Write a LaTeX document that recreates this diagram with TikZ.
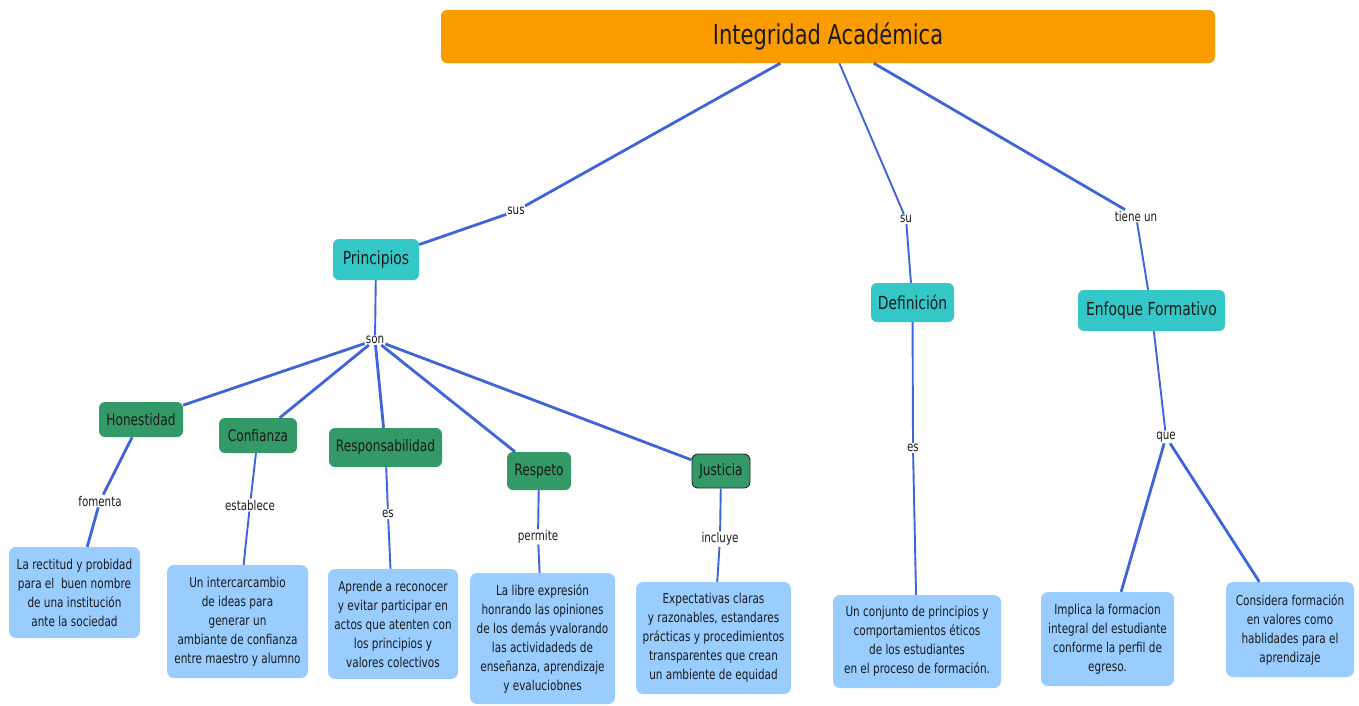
\documentclass[tikz,border=0pt]{standalone}
\usepackage{fontspec}
\setmainfont{DejaVu Sans}[FakeStretch=0.77]
\definecolor{orangeT}{HTML}{FA9B00}
\definecolor{tealB}{HTML}{33C7C7}
\definecolor{greenB}{HTML}{339966}
\definecolor{blueL}{HTML}{99CCFF}
\definecolor{lineB}{HTML}{3E64DC}
\definecolor{txt}{HTML}{1A1A1A}
\tikzset{
  titlebox/.style={fill=orangeT, rounded corners=6pt, inner sep=0pt, text=txt, font=\fontsize{27.3}{31}\selectfont},
  topicbox/.style={fill=tealB, rounded corners=6pt, inner sep=0pt, text=txt, font=\fontsize{18}{21}\selectfont},
  valuebox/.style={fill=greenB, rounded corners=6pt, inner sep=0pt, text=txt, font=\fontsize{15.8}{19}\selectfont},
  infobox/.style={fill=blueL, rounded corners=7pt, inner sep=0pt, align=center, text=txt, font=\fontsize{13.6}{19}\selectfont},
  linklabel/.style={fill=white, inner sep=1pt, text=txt, font=\fontsize{13.4}{15}\selectfont},
  conn/.style={draw=lineB, line width=2.8pt},
  connthin/.style={draw=lineB, line width=1.9pt},
}
\begin{document}
\begin{tikzpicture}[x=1pt,y=-1pt]
\useasboundingbox (0,0) rectangle (1359,705);
% main nodes
\node[titlebox, minimum width=774pt, minimum height=53pt] (title) at (828,36.5) {Integridad Académica};
\node[topicbox, minimum width=86pt, minimum height=41pt] (prin) at (376,259.5) {Principios};
\node[topicbox, minimum width=83pt, minimum height=39pt] (defi) at (912.5,302.5) {Definición};
\node[topicbox, minimum width=147pt, minimum height=41pt] (enfo) at (1151.5,310.5) {Enfoque Formativo};
\node[valuebox, minimum width=84pt, minimum height=35pt] (hone) at (141,419.5) {Honestidad};
\node[valuebox, minimum width=78pt, minimum height=35pt] (conf) at (258,435.5) {Confianza};
\node[valuebox, minimum width=113pt, minimum height=39pt] (resp) at (385.5,447.5) {Responsabilidad};
\node[valuebox, minimum width=64pt, minimum height=38pt] (rspt) at (539,471) {Respeto};
\node[valuebox, draw=black!85, line width=0.9pt, minimum width=58pt, minimum height=34pt] (just) at (721,471) {Justicia};
% info boxes
\node[infobox, minimum width=131pt, minimum height=91pt] (b1) at (74.5,592.5) {La rectitud y probidad\\para el\ \ buen nombre\\de una institución\\ante la sociedad};
\node[infobox, minimum width=141pt, minimum height=113pt] (b2) at (237.5,621.5) {Un intercarcambio\\de ideas para\\generar un\\ambiante de confianza\\entre maestro y alumno};
\node[infobox, minimum width=130pt, minimum height=110pt] (b3) at (393,624) {Aprende a reconocer\\y evitar participar en\\actos que atenten con\\los principios y\\valores colectivos};
\node[infobox, minimum width=145pt, minimum height=131pt] (b4) at (542.5,638.5) {La libre expresión\\honrando las opiniones\\de los demás yvalorando\\las actividadeds de\\enseñanza, aprendizaje\\y evaluciobnes};
\node[infobox, minimum width=155pt, minimum height=112pt] (b5) at (713.5,638) {Expectativas claras\\y razonables, estandares\\prácticas y procedimientos\\transparentes que crean\\un ambiente de equidad};
\node[infobox, minimum width=168pt, minimum height=93pt] (b6) at (917,641.5) {Un conjunto de principios y\\comportamientos éticos\\de los estudiantes\\en el proceso de formación.};
\node[infobox, minimum width=133pt, minimum height=94pt] (b7) at (1107.5,639) {Implica la formacion\\integral del estudiante\\conforme la perfil de\\egreso.};
\node[infobox, minimum width=128pt, minimum height=95pt] (b8) at (1290,629.5) {Considera formación\\en valores como\\hablidades para el\\aprendizaje};
% link labels
\node[linklabel] (lsus) at (516,211) {sus};
\node[linklabel] (lsu) at (906,219) {su};
\node[linklabel] (ltiene) at (1136,216) {tiene un};
\node[linklabel] (lson) at (375,340) {son};
\node[linklabel] (lfom) at (100,501) {fomenta};
\node[linklabel] (lest) at (250,505) {establece};
\node[linklabel] (les1) at (388,514) {es};
\node[linklabel] (lper) at (538,537) {permite};
\node[linklabel] (linc) at (720,539) {incluye};
\node[linklabel] (les2) at (913,448) {es};
\node[linklabel] (lque) at (1166,437) {que};
% connectors
\draw[conn] (title) -- (lsus);
\draw[conn] (lsus) -- (prin);
\draw[connthin] (title) -- (lsu);
\draw[connthin] (lsu) -- (defi);
\draw[conn] (title) -- (ltiene);
\draw[connthin] (ltiene) -- (enfo);
\draw[connthin] (prin) -- (lson);
\draw[conn] (lson) -- (hone);
\draw[conn] (lson) -- (conf);
\draw[conn] (lson) -- (resp);
\draw[conn] (lson) -- (rspt);
\draw[conn] (lson) -- (just);
\draw[conn] (hone) -- (lfom);
\draw[conn] (lfom) -- (b1);
\draw[connthin] (conf) -- (lest);
\draw[connthin] (lest) -- (b2);
\draw[connthin] (resp) -- (les1);
\draw[connthin] (les1) -- (b3);
\draw[connthin] (rspt) -- (lper);
\draw[connthin] (lper) -- (b4);
\draw[connthin] (just) -- (linc);
\draw[connthin] (linc) -- (b5);
\draw[connthin] (defi) -- (les2);
\draw[connthin] (les2) -- (b6);
\draw[connthin] (enfo) -- (lque);
\draw[conn] (lque) -- (b7);
\draw[conn] (lque) -- (b8);
\end{tikzpicture}
\end{document}
